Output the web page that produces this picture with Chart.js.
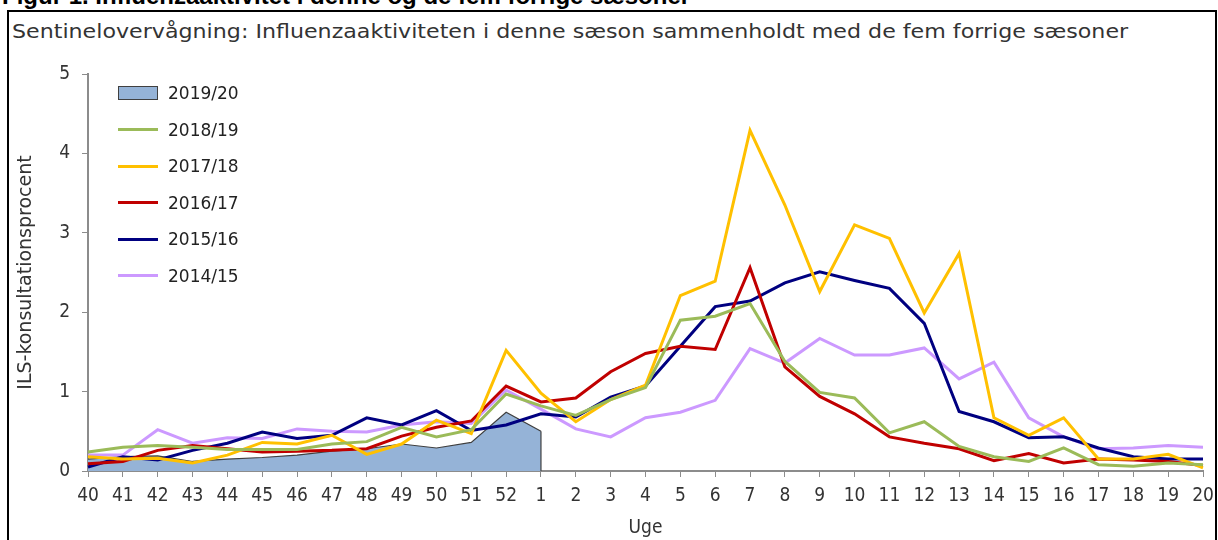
<!DOCTYPE html>
<html>
<head>
<meta charset="utf-8">
<script src="https://cdn.jsdelivr.net/npm/chart.js@4.4.1/dist/chart.umd.min.js"></script>
<style>
  html, body { margin: 0; padding: 0; background: #fff; }
  body { width: 1218px; height: 540px; position: relative; overflow: hidden; }
  #figTitle { position: absolute; left: 2px; top: -16px; font: bold 24px/24px 'Liberation Sans', Arial, sans-serif; color: #000; white-space: nowrap; }
  #frame { position: absolute; left: 7px; top: 10px; width: 1210px; height: 540px; border: 2px solid #000; border-bottom: none; box-sizing: border-box; }
  #subTitle { position: absolute; left: 12px; top: 19px; font: 19px/24px 'DejaVu Sans', sans-serif; color: #333; white-space: nowrap; transform-origin: 0 0; }
  #chartBox { position: absolute; left: 0; top: 0; width: 1218px; height: 540px; }
  #legend { position: absolute; left: 118px; top: 75px; }
  .row { display: flex; align-items: center; height: 36.5px; font: 17px 'DejaVu Sans', sans-serif; color: #222; }
  .swatch { width: 40px; margin-right: 10px; box-sizing: border-box; }
</style>
</head>
<body>
<div id="figTitle">Figur 1. Influenzaaktivitet i denne og de fem forrige sæsoner</div>
<div id="frame"></div>
<div id="subTitle">Sentinelovervågning: Influenzaaktiviteten i denne sæson sammenholdt med de fem forrige sæsoner</div>
<div id="chartBox"><canvas id="lineChart" width="1218" height="540"></canvas></div>
<div id="legend"></div>
<script>
// uger fra uge 40 til uge 20
var weeks = ['40','41','42','43','44','45','46','47','48','49','50','51','52',
  '1','2','3','4','5','6','7','8','9','10','11','12','13','14','15','16','17','18','19','20']
var yTicks = [0, 1, 2, 3, 4, 5]

var season1920 = [0.15,0.18,0.19,0.12,0.15,0.17,0.2,0.25,0.28,0.34,0.29,0.36,0.74,0.5]
var season1819 = [0.24,0.3,0.32,0.3,0.27,0.27,0.27,0.34,0.37,0.55,0.43,0.52,0.97,
  0.82,0.7,0.9,1.05,1.9,1.95,2.11,1.38,0.99,0.92,0.48,0.62,0.31,0.18,0.12,0.29,0.08,0.06,0.1,0.08]
var season1718 = [0.18,0.15,0.16,0.1,0.2,0.36,0.34,0.45,0.21,0.34,0.64,0.47,1.52,
  0.98,0.62,0.9,1.08,2.21,2.39,4.29,3.35,2.26,3.1,2.93,1.99,2.74,0.67,0.45,0.67,0.15,0.15,0.21,0.04]
var season1617 = [0.09,0.12,0.26,0.32,0.28,0.24,0.25,0.26,0.28,0.44,0.55,0.63,1.07,
  0.87,0.92,1.25,1.48,1.57,1.53,2.56,1.31,0.94,0.72,0.43,0.35,0.28,0.13,0.22,0.1,0.15,0.14,0.12,0.07]
var season1516 = [0.05,0.18,0.14,0.26,0.35,0.49,0.41,0.45,0.67,0.58,0.76,0.51,0.58,
  0.72,0.68,0.93,1.07,1.57,2.07,2.14,2.37,2.51,2.4,2.3,1.86,0.75,0.62,0.42,0.43,0.29,0.18,0.15,0.15]
var season1415 = [0.2,0.2,0.52,0.35,0.42,0.41,0.53,0.5,0.49,0.58,0.62,0.6,1.02,
  0.78,0.53,0.43,0.67,0.74,0.89,1.54,1.36,1.67,1.46,1.46,1.55,1.16,1.37,0.67,0.43,0.28,0.29,0.32,0.3]

var seasonLabels = ['2019/20', '2018/19', '2017/18', '2016/17', '2015/16', '2014/15']
var seasonColors = ['#95b3d7', '#9bbb59', '#ffc000', '#c00000', '#000080', '#cc99ff']
var seasonData   = [season1920, season1819, season1718, season1617, season1516, season1415]

// subtitle stretched to the width of the original
var sub = document.getElementById('subTitle')
sub.style.transform = 'scaleX(' + (1116 / sub.offsetWidth) + ')'

var tickFont = { family: "'Liberation Sans Narrow', 'DejaVu Sans Condensed', sans-serif", size: 19 }
var axisGrey = '#8c8c8c'

var datasets = seasonData.map(function (d, i) {
  if (i === 0) {
    return {
      label: seasonLabels[i], data: d, order: 1,
      fill: 'origin', backgroundColor: seasonColors[i],
      borderColor: '#404040', borderWidth: 1.2, pointRadius: 0, tension: 0
    }
  }
  return {
    label: seasonLabels[i], data: d, order: 0, fill: false,
    borderColor: seasonColors[i], borderWidth: 3, pointRadius: 0, tension: 0
  }
})

// closing edge of the area down to zero at the last week with data
var areaEdge = {
  id: 'areaEdge',
  afterDatasetDraw: function (chart, args) {
    if (args.index !== 0) return
    var pts = args.meta.data
    var last = pts[pts.length - 1]
    var y0 = chart.scales.y.getPixelForValue(0)
    var c = chart.ctx
    c.save()
    c.strokeStyle = '#404040'
    c.lineWidth = 1.2
    c.beginPath()
    c.moveTo(last.x, last.y)
    c.lineTo(last.x, y0)
    c.stroke()
    c.restore()
  }
}

// legend inside the plot
var legend = document.getElementById('legend')
seasonLabels.forEach(function (lab, i) {
  var row = document.createElement('div')
  row.className = 'row'
  var sw = document.createElement('div')
  sw.className = 'swatch'
  if (i === 0) {
    sw.style.height = '14px'
    sw.style.background = seasonColors[i]
    sw.style.border = '1.5px solid #404040'
  } else {
    sw.style.height = '3px'
    sw.style.background = seasonColors[i]
  }
  row.appendChild(sw)
  row.appendChild(document.createTextNode(lab))
  legend.appendChild(row)
})

var ctx = document.getElementById('lineChart').getContext('2d')
new Chart(ctx, {
  type: 'line',
  data: { labels: weeks, datasets: datasets },
  plugins: [areaEdge],
  options: {
    responsive: false,
    animation: false,
    layout: { padding: { top: 74, right: 15, bottom: 0, left: 0 } },
    plugins: { legend: { display: false }, tooltip: { enabled: false } },
    scales: {
      x: {
        offset: false,
        afterFit: function (s) { s.height = 69; s.paddingLeft = 0; s.paddingRight = 0 },
        grid: { drawOnChartArea: false, drawTicks: true, tickLength: 6, color: axisGrey },
        border: { color: axisGrey, width: 2 },
        ticks: { font: tickFont, color: '#333', padding: 8, maxRotation: 0, autoSkip: false },
        title: { display: true, text: 'Uge', color: '#333', padding: { top: 0, bottom: 1 },
          font: { family: "'Liberation Sans Narrow', 'DejaVu Sans Condensed', sans-serif", size: 19 } }
      },
      y: {
        min: yTicks[0], max: yTicks[yTicks.length - 1],
        afterFit: function (s) { s.width = 88 },
        afterBuildTicks: function (s) { s.ticks = yTicks.map(function (v) { return { value: v } }) },
        grid: { drawOnChartArea: false, drawTicks: true, tickLength: 6, color: axisGrey },
        border: { color: axisGrey, width: 2 },
        ticks: { font: tickFont, color: '#333', padding: 12 },
        title: { display: true, text: 'ILS-konsultationsprocent', color: '#333', padding: { top: 15, bottom: 0 },
          font: { family: "'DejaVu Sans', sans-serif", size: 19 } }
      }
    }
  }
})
</script>
</body>
</html>
